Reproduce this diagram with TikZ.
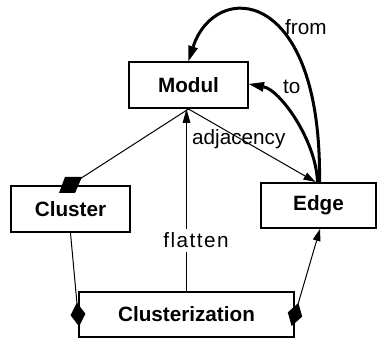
\documentclass[tikz,border=0pt]{standalone}
\usepackage{fontspec}
\setmainfont{Liberation Sans}
\usetikzlibrary{arrows.meta,calc}
\begin{document}
\begin{tikzpicture}[x=1pt,y=-1pt,
  box/.style={draw,line width=2pt,minimum width=#1,minimum height=46pt,inner sep=0pt,
    font=\fontsize{20.7}{24}\selectfont\bfseries},
  lbl/.style={inner sep=0pt,font=\fontsize{20.7}{24}\selectfont},
  thinline/.style={line width=1pt},
  thickline/.style={line width=3pt},
  thintip/.style={-{Triangle[length=12pt,width=8pt,line width=0pt]}},
  thicktip/.style={-{Triangle[length=15pt,width=10pt,line width=0pt]}}]
\useasboundingbox (0,0) rectangle (378,339);
% boxes
\node[box=119pt] (modul) at (188.5,85) {Modul};
\node[box=119pt] (cluster) at (70.5,209) {Cluster};
\node[box=115pt,minimum height=45pt] (edge) at (318.5,205.5) {Edge};
\node[box=215pt,minimum height=45pt] (cz) at (186.5,314.5) {Clusterization};
% Modul -- Cluster with composition mark
\draw[thinline] (modul.south) -- (cluster.north);
\fill ([shift={(-5.5,-8)}]cluster.north) -- ++(17,0) -- ++(-7,16) -- ++(-16,0) -- cycle;
% Modul -> Edge
\draw[thinline,thintip] (modul.south) -- ([xshift=-3pt]edge.north);
\node[lbl,anchor=base west] (adj) at (192,145) {adjacency};
% Clusterization -> Modul (flatten)
\draw[thinline,-{Triangle[length=14pt,width=8pt,line width=0pt]}] (cz.north) -- (cz.north |- modul.south);
\node[lbl,fill=white,inner xsep=1pt,inner ysep=4pt,anchor=base] (flat) at (196,248) {\addfontfeature{LetterSpace=7}flatten};
% Cluster -- Clusterization
\draw[thinline,-{Diamond[length=24pt,width=15pt,line width=0pt]},shorten >=-12pt] (cluster.south) -- (cz.west);
% Clusterization -> Edge
\draw[thinline,{Diamond[length=24pt,width=15pt,line width=0pt]}-{Triangle[length=12pt,width=8pt,line width=0pt]},shorten <=-12pt] (cz.east) -- ([xshift=1.5pt]edge.south);
% from / to
\draw[thickline,thicktip] ([xshift=1pt]edge.north) .. controls (322,-15) and (215,-20) .. (modul.north);
\node[lbl,anchor=base west] (from) at (285,35) {from};
\draw[thickline,thicktip] ([xshift=-1pt]edge.north) .. controls (316,140) and (280,90) .. ([yshift=1pt]modul.east);
\node[lbl,anchor=base west] (to) at (283,94) {to};
\end{tikzpicture}
\end{document}
